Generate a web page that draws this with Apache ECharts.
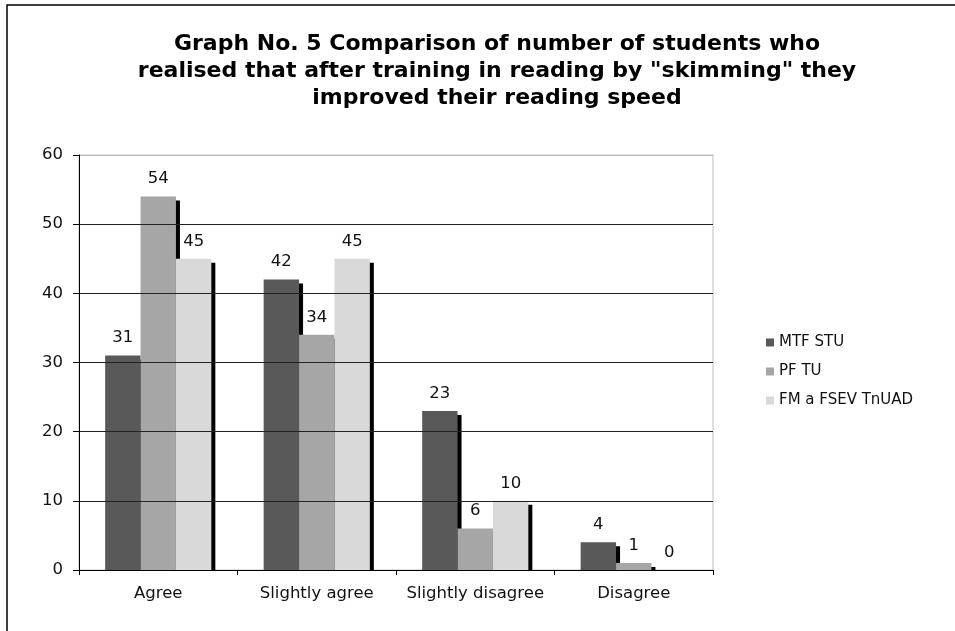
<!DOCTYPE html>
<html><head><meta charset="utf-8">
<script src="https://cdn.jsdelivr.net/npm/echarts@6/dist/echarts.min.js"></script>
<style>html,body{margin:0;padding:0;background:#fff}#c{width:955px;height:631px}</style>
</head><body><div id="c"></div>
<script>
var categories = ['Agree', 'Slightly agree', 'Slightly disagree', 'Disagree'];
var seriesNames = ['MTF STU', 'PF TU', 'FM a FSEV TnUAD'];
var mtfStu = [31, 42, 23, 4];
var pfTu = [54, 34, 6, 1];
var fmFsev = [45, 45, 10, 0];
var yTicks = [0, 10, 20, 30, 40, 50, 60];
var colors = ['#595959', '#a6a6a6', '#d9d9d9'];
var titleText = 'Graph No. 5 Comparison of number of students who\nrealised that after training in reading by "skimming" they\nimproved their reading speed';

var chart = echarts.init(document.getElementById('c'), null, {renderer: 'canvas'});
var FONT = 'DejaVu Sans, Verdana, sans-serif';
function mk(name, data, color) {
  return {
    name: name, type: 'bar', data: data, barGap: 0, barCategoryGap: '33%',
    itemStyle: {color: color, shadowColor: '#000', shadowOffsetX: 4, shadowOffsetY: 4, shadowBlur: 0},
    label: {show: true, position: 'top', distance: 9, color: '#111', fontSize: 16.5, fontFamily: FONT},
    z: 2
  };
}
chart.setOption({
  animation: false,
  color: colors,
  title: {
    text: titleText, left: 492, top: 26, textAlign: 'center',
    textStyle: {fontFamily: FONT, fontWeight: 'bold', fontSize: 22, lineHeight: 27, color: '#000'}
  },
  legend: {
    orient: 'vertical', left: 766, top: 335, padding: 0, itemWidth: 8, itemHeight: 8, itemGap: 14,
    icon: 'rect', textStyle: {fontFamily: FONT, fontSize: 15, color: '#111'},
    data: seriesNames
  },
  grid: {left: 79, right: 242, top: 155, bottom: 61, show: true, borderColor: '#bdbdbd', borderWidth: 1},
  xAxis: {
    type: 'category', data: categories, z: 5,
    axisLine: {lineStyle: {color: '#000', width: 1}},
    axisTick: {show: true, length: 5, lineStyle: {color: '#000'}},
    axisLabel: {interval: 0, fontFamily: FONT, fontSize: 16.5, color: '#111', margin: 15}
  },
  yAxis: {
    type: 'value', min: yTicks[0], max: yTicks[yTicks.length - 1], interval: 10, z: 5,
    axisLine: {show: true, lineStyle: {color: '#000'}},
    axisTick: {show: true, length: 6, lineStyle: {color: '#000'}},
    axisLabel: {fontFamily: FONT, fontSize: 16.5, color: '#111', margin: 16},
    splitLine: {lineStyle: {color: ['#222', '#222', '#222', '#222', '#222', '#222', '#bdbdbd'], width: 1}}
  },
  graphic: [
    {type: 'rect', shape: {x: 7, y: 5, width: 1000, height: 700}, style: {fill: 'none', stroke: '#000', lineWidth: 1.5}, z: 0, silent: true},
    {type: 'rect', shape: {x: 80, y: 571, width: 632, height: 6}, style: {fill: '#fff'}, z: 3, silent: true}
  ],
  series: [mk(seriesNames[0], mtfStu, colors[0]), mk(seriesNames[1], pfTu, colors[1]), mk(seriesNames[2], fmFsev, colors[2])]
});
</script></body></html>
